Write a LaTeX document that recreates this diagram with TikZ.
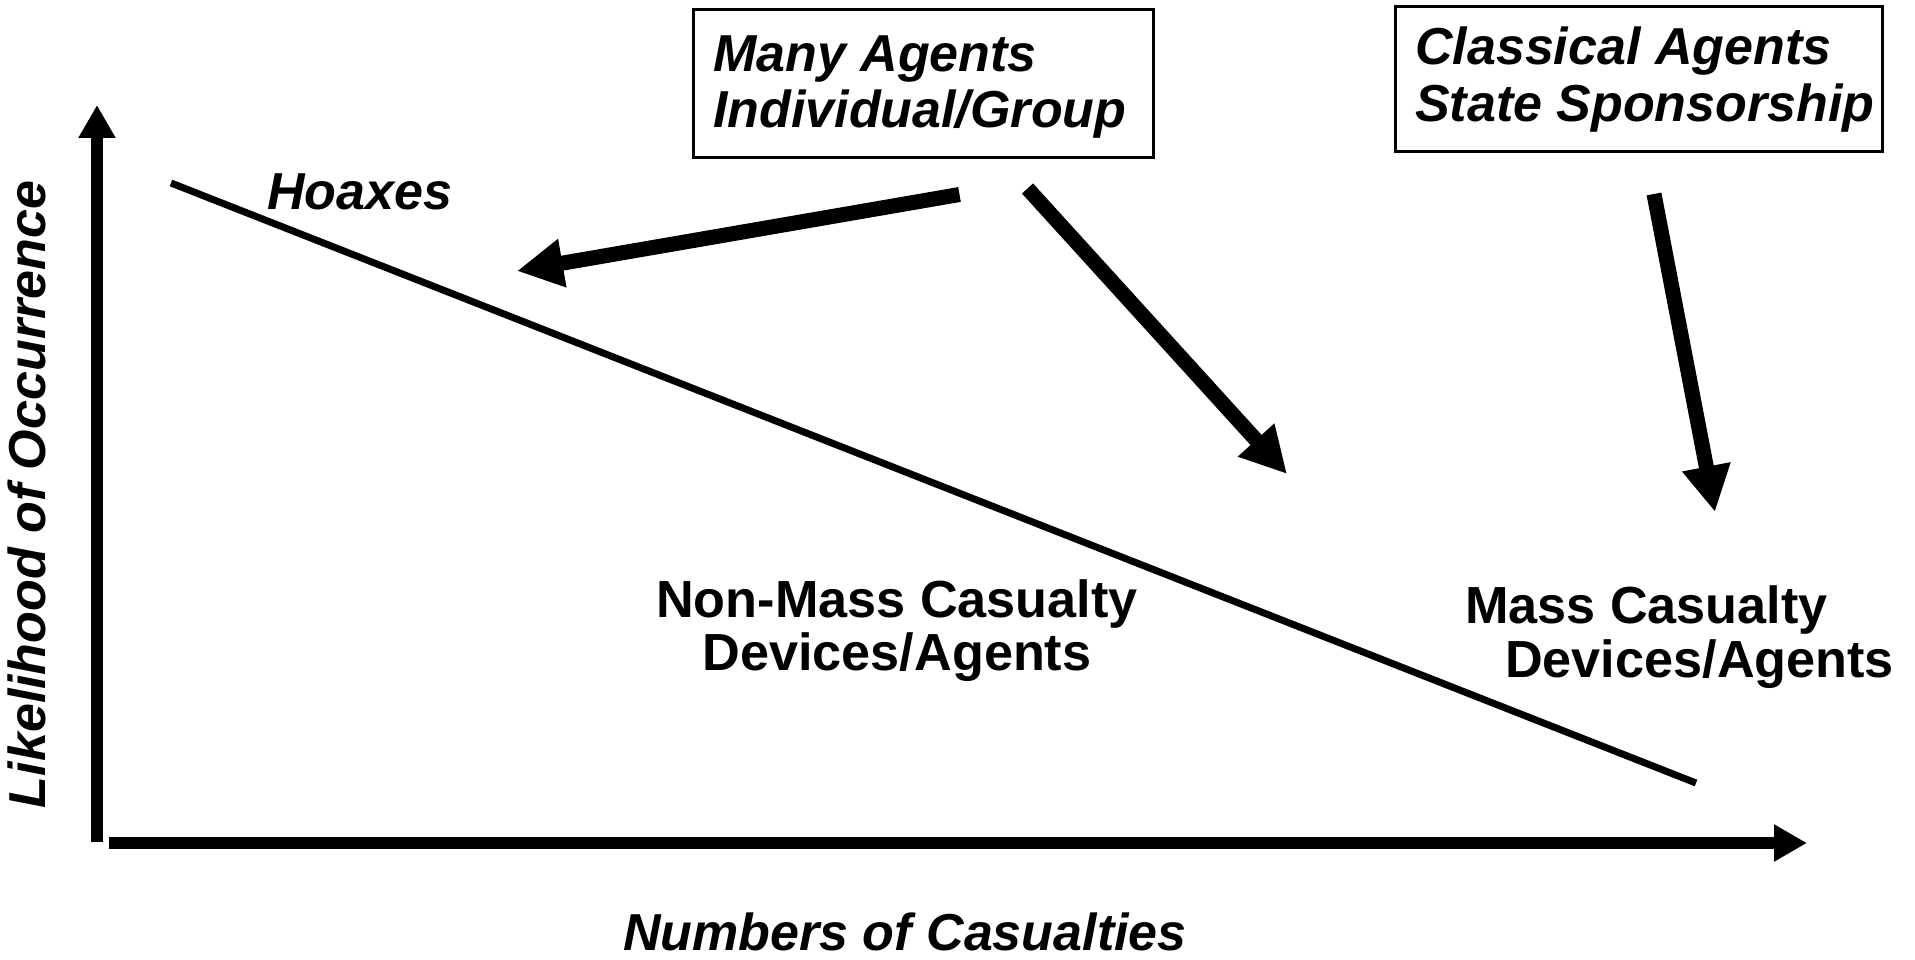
\documentclass[tikz,border=0pt]{standalone}
\usepackage{fontspec}
\setmainfont{Liberation Sans}
\usetikzlibrary{arrows.meta}
\begin{document}
\begin{tikzpicture}[x=1pt,y=-1pt,
  lbl/.style={font=\fontsize{52}{55}\selectfont\bfseries\itshape, inner sep=0pt},
  plain/.style={font=\fontsize{52.2}{55}\selectfont\bfseries, inner sep=0pt},
  frame/.style={draw, line width=3pt, inner sep=0pt, anchor=north west},
  axis/.style={line width=12pt, -{Triangle[length=33pt,width=35pt]}},
  fat/.style={line width=15pt, -{Triangle[length=46pt,width=46pt]}},
  trend/.style={line width=7pt}]
\useasboundingbox (0,0) rectangle (1915,960);

% boxes
\node[frame, minimum width=460pt, minimum height=148pt] (b1) at (691.5,8.5) {};
\node[frame, minimum width=487pt, minimum height=145pt] (b2) at (1393.5,5.5) {};
\node[lbl, anchor=base west] (b1l1) at (713,72) {Many Agents};
\node[lbl, anchor=base west] (b1l2) at (713,128) {Individual/Group};
\node[lbl, anchor=base west] (b2l1) at (1415,65) {Classical Agents};
\node[lbl, anchor=base west] (b2l2) at (1415,122) {State Sponsorship};

% axes
\coordinate (ybot) at (97,842);
\coordinate (ytop) at (97,105);
\coordinate (xleft) at (109,843);
\coordinate (xright) at (1807,843);
\draw[axis] (ybot) -- (ytop);
\draw[axis] (xleft) -- (xright);

% trend line
\coordinate (t1) at (171,183);
\coordinate (t2) at (1696,783);
\draw[trend] (t1) -- (t2);

% arrows
\coordinate (a1s) at (959.5,194.5);
\coordinate (a1e) at (517,271);
\coordinate (a2s) at (1027.5,188.5);
\coordinate (a2e) at (1287,474);
\coordinate (a3s) at (1654,194);
\coordinate (a3e) at (1715,512);
\draw[fat] (a1s) -- (a1e);
\draw[fat] (a2s) -- (a2e);
\draw[fat] (a3s) -- (a3e);

% labels
\node[lbl, anchor=base west] (hoax) at (267,210) {Hoaxes};
\node[lbl, anchor=base, rotate=90] (ylab) at (45,494.5) {Likelihood of Occurrence};
\node[lbl, anchor=base west] (xlab) at (623,950) {Numbers of Casualties};
\node[plain, anchor=base] (nm1) at (897,617) {Non-Mass Casualty};
\node[plain, anchor=base] (nm2) at (897,670) {Devices/Agents};
\node[plain, anchor=base west] (m1) at (1465,623) {Mass Casualty};
\node[plain, anchor=base west] (m2) at (1505,677) {Devices/Agents};
\end{tikzpicture}
\end{document}
